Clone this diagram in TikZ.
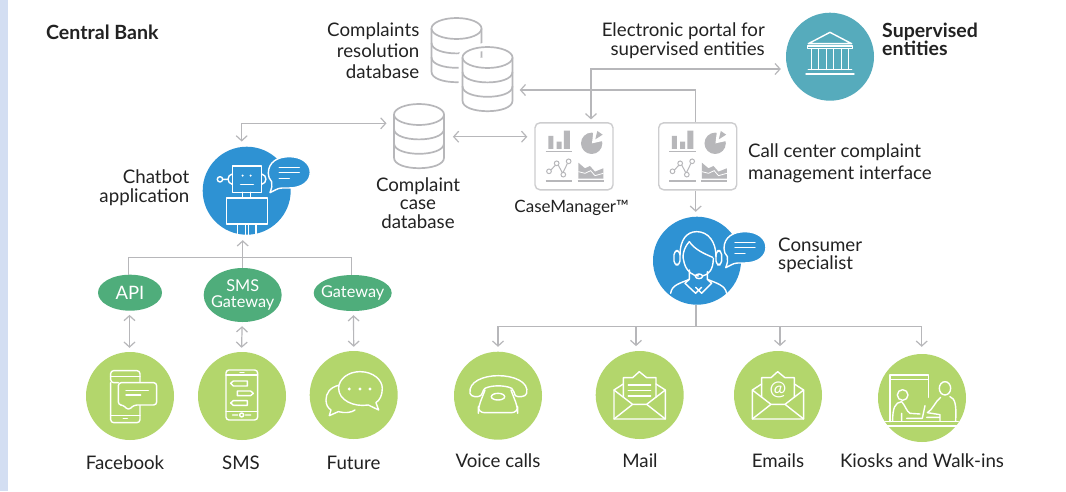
\documentclass[tikz,border=0pt]{standalone}
\usepackage{fontspec}
\setmainfont{Lato}
\usetikzlibrary{arrows.meta,shapes.geometric}
\definecolor{band}{HTML}{D3DEF2}
\definecolor{cblue}{HTML}{2E92D3}
\definecolor{cteal}{HTML}{56ABBC}
\definecolor{clime}{HTML}{B3D66C}
\definecolor{cgreen}{HTML}{4FAD7B}
\definecolor{cgrey}{HTML}{B7B7BA}
\definecolor{ctext}{HTML}{222222}
\newcommand{\dbcyl}[2]{%
  \begin{scope}[shift={(#1,#2)}]
  \path[fill=white] (-25,0) -- (-25,43.2) .. controls (-25,57.2) and (25,57.2) .. (25,43.2) -- (25,0) -- cycle;
  \draw[dbline] (-25,0) -- (-25,43.2) .. controls (-25,57.2) and (25,57.2) .. (25,43.2) -- (25,0);
  \draw[dbline] (-25,14.4) .. controls (-25,28.4) and (25,28.4) .. (25,14.4);
  \draw[dbline] (-25,28.8) .. controls (-25,42.8) and (25,42.8) .. (25,28.8);
  \draw[dbline] (0,0) ellipse [x radius=25,y radius=10.5];
  \end{scope}}
\newcommand{\talk}[2]{%
  \begin{scope}[shift={(#1,#2)},scale=.3333]
  \draw[icon,fill=cblue] (-63,3) .. controls (-63,-32) and (-33,-47) .. (0,-47) .. controls (37,-47) and (63,-27) .. (63,0) .. controls (63,28) and (37,47) .. (0,47) .. controls (-18,47) and (-30,46) .. (-40,52) -- (-58,61) .. controls (-53,48) and (-50,38) .. (-53,28) .. controls (-60,20) and (-63,13) .. cycle;
  \draw[icon] (-30,-14) -- (30,-14) (-30,0) -- (30,0) (-30,18) -- (0,18);
  \end{scope}}
\newcommand{\dash}[1]{%
  \begin{scope}[shift={(#1,0)},scale=.3333]
  \fill[cgrey] (445,408) rectangle (460,447) (470,425) rectangle (485,447) (492,392) rectangle (510,447);
  \draw[cgrey,line width=1.2pt] (437,454) -- (517,454) (437,543) -- (517,543) (533,543) -- (612,543);
  \fill[cgrey] (575,430) circle [radius=32];
  \fill[white] (576,430) -- (581,388) -- (622,388) -- (622,420) -- cycle;
  \fill[cgrey] (586,418) -- (592,393) -- (608,404) -- cycle;
  \draw[cgrey,line width=1pt] (451,512) -- (464,498) -- (473,492) -- (488,520) -- (502,491);
  \draw[cgrey,line width=1pt,fill=white] (447,514) circle [radius=7] (470,490) circle [radius=7] (490,524) circle [radius=7] (506,484) circle [radius=7];
  \fill[cgrey] (535,488) -- (555,505) -- (570,498) -- (585,515) -- (610,505) -- (610,536) -- (535,536) -- cycle;
  \draw[white,line width=.8pt] (535,515) -- (555,520) -- (572,512) -- (585,527) -- (610,520);
  \end{scope}}
\newcommand{\envelope}{%
  \draw[icon] (522,240) -- (522,327) -- (676,327) -- (676,240) -- (648,222) (550,222) -- (522,240);
  \draw[icon] (522,240) -- (578,283) -- (620,283) -- (676,240) (522,327) -- (578,283) (620,283) -- (676,327);
  \draw[icon] (550,262) -- (550,203) -- (578,203) -- (598,185) -- (620,203) -- (648,203) -- (648,262);}
\tikzset{
  dbline/.style={cgrey,line width=1.7pt},
  icon/.style={white,line width=1.4pt,line cap=round,line join=round},
  wire/.style={cgrey,line width=1.2pt},
  arr/.style={wire,-{Straight Barb[length=5pt,width=11pt,line width=1.2pt]}},
  arrs/.style={wire,{Straight Barb[length=5pt,width=11pt,line width=1.2pt]}-{Straight Barb[length=5pt,width=11pt,line width=1.2pt]}},
  gap/.style={shorten >=4pt,shorten <=4pt},
  disc/.style={circle,minimum size=88pt,inner sep=0pt,draw=none},
  pill/.style={ellipse,fill=cgreen,text=white,inner ysep=0pt,inner xsep=-4.5pt,align=center},
  panel/.style={draw=cgrey!70,line width=1.4pt,rounded corners=5pt,minimum width=78pt,minimum height=67pt,inner sep=0pt},
  ghost/.style={minimum width=50pt,minimum height=64pt,inner sep=0pt},
  lab/.style={text=ctext,inner sep=0pt,font=\fontsize{18.7}{20}\selectfont},
}
\begin{document}
\begin{tikzpicture}[x=1pt,y=-1pt]
\useasboundingbox (0,0) rectangle (1066,491);
\fill[white] (0,0) rectangle (1066,491);
\fill[band] (0,0) rectangle (8,491);

% discs
\node[disc,fill=cblue] (chat) at (246.7,190.7) {};
\node[disc,fill=cteal] (sup) at (830,56.7) {};
\node[disc,fill=cblue] (cons) at (697,260.7) {};
\node[disc,fill=clime] (fb) at (130,396) {};
\node[disc,fill=clime] (sms) at (242,396) {};
\node[disc,fill=clime] (fut) at (353.7,395) {};
\node[disc,fill=clime] (voice) at (498,395.7) {};
\node[disc,fill=clime] (mail) at (639.7,395) {};
\node[disc,fill=clime] (email) at (778,395) {};
\node[disc,fill=clime] (kiosk) at (922,398) {};

% gateways
\node[pill,minimum width=64pt,minimum height=36pt,font=\fontsize{18.5}{20}\selectfont] (api) at (130,292.7) {API};
\node[pill,minimum width=78pt,minimum height=54pt,font=\fontsize{16.3}{16.5}\selectfont] (smsg) at (242.7,295) {SMS\\Gateway};
\node[pill,minimum width=78pt,minimum height=36pt,font=\fontsize{16.3}{17}\selectfont] (gate) at (352.7,293) {Gateway};

% databases
\node[ghost] (dbback) at (456.5,50) {};
\node[ghost] (dbres) at (487.5,79) {};
\node[ghost] (dbcase) at (419,136) {};
\dbcyl{456.5}{28.5}
\begin{scope}[shift={(487.5,57.5)}]
\path[draw=white,line width=8pt] (-25,0) -- (-25,43.2) .. controls (-25,57.2) and (25,57.2) .. (25,43.2) -- (25,0) .. controls (25,-14) and (-25,-14) .. (-25,0);
\end{scope}
\dbcyl{487.5}{57.5}
\dbcyl{419}{114.5}

% dashboards
\node[panel] (cm) at (574,156.3) {};
\node[panel] (call) at (697.7,156.3) {};
\begin{scope}[shift={(400,0)}]\dash{0}\end{scope}
\begin{scope}[shift={(400,0)}]\dash{123.5}\end{scope}

% connectors
\draw[arrs] ([shift={(-5,-5)}]chat.north) |- ([shift={(-7.3,-12.7)}]dbcase.west);
\draw[arrs] ([shift={(8.7,0.7)}]dbcase.east) -- ([shift={(-7,-19.6)}]cm.west);
\draw[arrs] ([shift={(17,-2.7)}]cm.north) |- ([shift={(-5,12.3)}]sup.west);
\draw[arr] ([xshift=-2]call.north) |- ([shift={(7,11)}]dbres.east);
\draw[arr] ([xshift=-2]call.south) -- ([shift={(-1.3,-4.7)}]cons.north);
\coordinate (busa) at (242.7,257.3);
\draw[wire] ([xshift=-1.7]api.north) |- (busa) -| ([xshift=-1]gate.north);
\draw[arr] (smsg.north) -- ([shift={(-4,5.3)}]chat.south);
\draw[arrs,gap] ([xshift=-.5]api.south) -- ([xshift=-.5]fb.north);
\draw[arrs,gap] ([xshift=-.5]smsg.south) -- ([xshift=-.5]sms.north);
\draw[arrs,gap] ([xshift=.8]gate.south) -- (fut.north);
\coordinate (busb) at (696,326.7);
\draw[wire] ([xshift=-1]cons.south) -- (busb);
\draw[arr] (busb) -| ([shift={(0,-4.7)}]voice.north);
\draw[arr] (busb) -| ([shift={(-3.7,-4.7)}]mail.north);
\draw[arr] (busb) -| ([shift={(2,-4.7)}]email.north);
\draw[arr] (busb) -| ([shift={(-.3,-7)}]kiosk.north);

% chatbot icon
\begin{scope}[scale=.3333]
\draw[icon] (697,498) rectangle (785,577);
\fill[white] (728,527) circle [radius=3.5] (752,527) circle [radius=3.5];
\draw[icon] (722,553) -- (760,553) (728,577) -- (728,592) (752,577) -- (752,592);
\draw[icon] (680,594) rectangle (802,672);
\draw[icon] (712,672) -- (712,703) (736,672) -- (736,704) (745,672) -- (745,704) (768,672) -- (768,703);
\draw[icon] (660,538) circle [radius=8] (668,538) -- (683,538);
\draw[icon] (697,522) .. controls (680,525) and (680,550) .. (697,553);
\draw[icon] (785,522) .. controls (802,525) and (802,550) .. (785,553);
\end{scope}
\talk{289.3}{172.3}

% building icon
\begin{scope}[shift={(630,0)},scale=.3333]
\draw[icon] (535,131) -- (600,97) -- (665,131) -- cycle;
\draw[icon] (532,138) -- (668,138) -- (668,146) -- (532,146) -- cycle;
\draw[icon] (545,146) -- (545,208) (565,146) -- (565,208) (590,146) -- (590,208) (610,146) -- (610,208) (635,146) -- (635,208) (655,146) -- (655,208);
\draw[icon] (535,208) -- (665,208) (528,222) -- (672,222);
\end{scope}

% consumer specialist icon
\begin{scope}[shift={(630,0)},scale=.3333]
\draw[icon] (150,765) .. controls (150,720) and (170,695) .. (200,695) .. controls (235,695) and (258,725) .. (258,770);
\draw[icon,rounded corners=4pt] (132,752) rectangle (150,795);
\draw[icon,rounded corners=4pt] (258,752) rectangle (275,795);
\draw[icon] (178,725) .. controls (160,745) and (155,770) .. (163,790) .. controls (170,815) and (190,828) .. (205,828);
\draw[icon] (178,725) .. controls (195,750) and (225,762) .. (248,772);
\draw[icon] (250,775) .. controls (250,810) and (235,825) .. (217,828);
\draw[icon] (207,829) ellipse [x radius=11,y radius=7];
\draw[icon] (178,810) -- (178,838) .. controls (150,850) and (125,855) .. (122,880);
\draw[icon] (232,815) -- (232,838) .. controls (260,850) and (285,855) .. (290,880);
\draw[icon] (178,838) -- (165,850) -- (197,880) -- (215,862) (232,838) -- (245,850) -- (215,880) -- (197,862);
\end{scope}
\talk{745}{247.3}

% facebook icon
\begin{scope}[shift={(70,230)},scale=.3333]
\draw[icon,rounded corners=3pt] (145,458) -- (122,458) -- (122,422) -- (210,422) -- (210,458);
\draw[icon,rounded corners=3pt] (122,458) -- (122,578) -- (210,578) -- (210,525);
\draw[icon] (122,440) -- (145,440) (122,556) -- (210,556) (160,566) -- (172,566) (145,440) -- (210,440);
\draw[icon,rounded corners=3pt,fill=clime] (160,525) -- (145,525) -- (145,458) -- (260,458) -- (260,525) -- (192,525) -- (175,541) -- cycle;
\draw[icon] (168,481) -- (235,481) (168,495) -- (212,495);
\end{scope}

% sms icon
\begin{scope}[shift={(70,230)},scale=.3333]
\draw[icon,rounded corners=3pt] (468,420) rectangle (563,570);
\draw[icon] (468,435) -- (563,435) (468,545) -- (563,545) (510,427) -- (522,427);
\draw[icon] (490,453) -- (532,453) -- (532,468) -- (490,468) -- (482,460) -- cycle;
\draw[icon] (502,483) -- (542,483) -- (550,490) -- (542,497) -- (502,497) -- cycle;
\draw[icon] (490,512) -- (532,512) -- (532,526) -- (490,526) -- (482,519) -- cycle;
\draw[icon] (515,555) circle [radius=6] (488,555) -- (503,555) (527,555) -- (542,555);
\end{scope}

% future icon
\begin{scope}[shift={(70,230)},scale=.3333]
\draw[icon] (806,466) .. controls (780,472) and (768,490) .. (768,510) .. controls (768,525) and (775,535) .. (783,540) -- (778,557) -- (805,545) .. controls (825,550) and (845,548) .. (855,540);
\draw[icon] (870,425) .. controls (910,425) and (937,450) .. (937,475) .. controls (937,495) and (930,510) .. (918,518) -- (926,540) -- (895,525) .. controls (850,532) and (806,510) .. (806,475) .. controls (806,447) and (835,425) .. (870,425) -- cycle;
\fill[white] (838,477) circle [radius=5] (870,477) circle [radius=5] (900,477) circle [radius=5];
\end{scope}

% voice icon
\begin{scope}[shift={(440,310)},scale=.3333]
\draw[icon] (90,250) .. controls (85,215) and (130,197) .. (175,197) .. controls (220,197) and (268,215) .. (260,250) .. controls (258,262) and (232,262) .. (226,257) .. controls (222,250) and (222,240) .. (215,235) .. controls (195,225) and (155,225) .. (135,235) .. controls (128,240) and (128,252) .. (122,257) .. controls (115,262) and (92,262) .. (90,250) -- cycle;
\draw[icon,rounded corners=6pt] (135,240) -- (115,292) -- (115,308) -- (233,308) -- (233,292) -- (213,240);
\draw[icon] (174,260) ellipse [x radius=20,y radius=10];
\end{scope}

% mail icon
\begin{scope}[shift={(440,310)},scale=.3333]
\envelope
\draw[icon] (565,225) -- (632,225) (565,242) -- (632,242) (565,258) -- (632,258);
\end{scope}

% email icon
\begin{scope}[shift={(710,310)},scale=.3333]
\begin{scope}[shift={(-395,0)}]\envelope\end{scope}
\end{scope}
\node[text=white,inner sep=0pt,font=\fontsize{20}{20}\selectfont] (at) at (778,389.5) {@};

% kiosk icon
\begin{scope}[shift={(710,310)},scale=.3333]
\draw[icon] (540,335) -- (540,195) -- (655,195) -- (655,262) (540,208) -- (655,208);
\draw[icon] (525,335) -- (745,335) (530,348) -- (740,348);
\draw[icon] (578,255) circle [radius=16];
\draw[icon] (548,332) .. controls (548,295) and (555,277) .. (575,275) .. controls (585,285) and (590,305) .. (600,310) -- (630,312);
\draw[icon] (575,332) -- (575,310) (590,325) -- (637,325) -- (645,287);
\draw[icon] (705,235) ellipse [x radius=17,y radius=20];
\draw[icon] (692,262) .. controls (675,275) and (668,300) .. (652,308) -- (690,314) -- (690,332) (650,322) -- (690,322);
\draw[icon] (720,260) .. controls (735,265) and (740,285) .. (737,332);
\end{scope}

% labels
\node[lab,font=\fontsize{19.6}{20}\selectfont\bfseries,anchor=west] (cb) at (46,32.5) {Central Bank};
\node[lab,align=right,anchor=east,font=\fontsize{18.7}{21}\selectfont] (t1) at (419.5,51) {Complaints\\resolution\\database};
\node[lab,align=right,anchor=east,font=\fontsize{18.7}{18.5}\selectfont] (t2) at (189.5,187.5) {Chatbot\\application};
\node[lab,align=center,font=\fontsize{18.7}{18.5}\selectfont] (t3) at (418,203) {Complaint\\case\\database};
\node[lab,align=right,anchor=east,font=\fontsize{18.7}{19}\selectfont] (t4) at (765,40.5) {Electronic portal for\\supervised entities};
\node[lab,align=left,anchor=west,font=\fontsize{19.5}{18}\selectfont\bfseries] (t5) at (882,39.5) {Supervised\\entities};
\node[lab,align=left,anchor=west,font=\fontsize{18.7}{22}\selectfont] (t6) at (748,163) {Call center complaint\\management interface};
\node[lab,font=\fontsize{17}{17}\selectfont] (t7) at (571.7,208) {CaseManager™};
\node[lab,align=left,anchor=west,font=\fontsize{18.7}{18}\selectfont] (t8) at (778,255) {Consumer\\specialist};
\node[lab] (l1) at (125,463) {Facebook};
\node[lab] (l2) at (241,463) {SMS};
\node[lab] (l3) at (353.5,463) {Future};
\node[lab] (l4) at (498,461) {Voice calls};
\node[lab] (l5) at (640,461) {Mail};
\node[lab] (l6) at (778,461) {Emails};
\node[lab] (l7) at (922,461) {Kiosks and Walk-ins};
\end{tikzpicture}
\end{document}
